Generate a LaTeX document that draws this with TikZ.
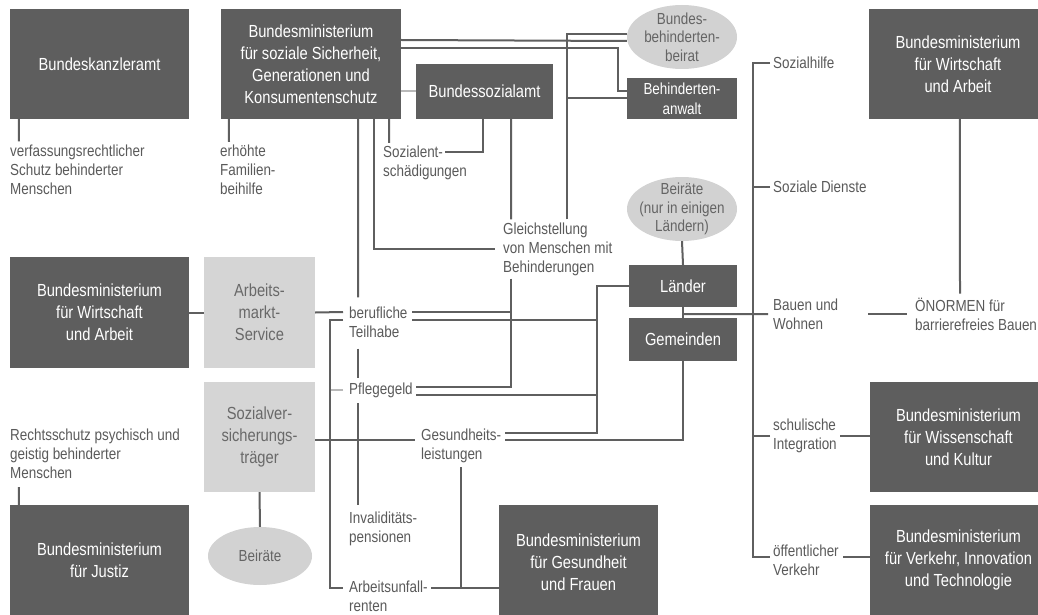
\documentclass[tikz,border=0pt]{standalone}
\usepackage{fontspec}
\newfontfamily\cond[FakeStretch=0.84]{Liberation Sans}
\usetikzlibrary{shapes.geometric,backgrounds}
\definecolor{dk}{RGB}{94,94,94}
\definecolor{lt}{RGB}{213,213,213}
\definecolor{el}{RGB}{210,210,210}
\definecolor{ln}{RGB}{95,95,95}
\definecolor{lln}{RGB}{185,185,185}
\definecolor{lbltext}{RGB}{90,90,90}
\definecolor{lttext}{RGB}{105,105,105}
\definecolor{eltext}{RGB}{100,100,100}
\newcommand\boxfont{\cond\fontsize{17.5}{22}\selectfont}
\newcommand\smallboxfont{\cond\fontsize{16}{20}\selectfont}
\newcommand\lblfont{\cond\fontsize{16}{19}\selectfont}
\newcommand\elfont{\cond\fontsize{16}{18.5}\selectfont}
\begin{document}
\begin{tikzpicture}[x=1pt,y=-1pt,
 dkbox/.style={fill=dk,text=white,font=\boxfont,align=center,inner sep=0pt},
 ltbox/.style={fill=lt,text=lttext,font=\boxfont,align=center,inner sep=0pt},
 oval/.style={ellipse,fill=el,text=eltext,font=\elfont,align=center,inner xsep=-20pt,inner ysep=-20pt},
 lbl/.style={font=\lblfont,text=lbltext,align=left,anchor=west,inner sep=0pt},
 conn/.style={draw=ln,line width=2pt},
 lconn/.style={draw=lln,line width=2pt},
 sz/.style 2 args={minimum width=#1pt,minimum height=#2pt}]
\useasboundingbox (0,0) rectangle (1038,615);
\clip (0,0) rectangle (1038,615);

% boxes
\node[dkbox,sz={179}{110}] (kanz) at (99.5,64) {Bundeskanzleramt};
\node[dkbox,sz={180}{110}] (bmsg) at (311,64) {Bundesministerium\\für soziale Sicherheit,\\Generationen und\\Konsumentenschutz};
\node[dkbox,sz={137}{55}] (bsa) at (484.5,91.5) {Bundessozialamt};
\node[oval,minimum width=110pt,minimum height=64pt] (bbb) at (682,37) {Bundes-\\behinderten-\\beirat};
\node[dkbox,font=\smallboxfont,sz={110}{41}] (anwalt) at (682,98.5) {Behinderten-\\anwalt};
\node[oval,minimum width=110pt,minimum height=64pt] (beir2) at (682,209) {Beiräte\\(nur in einigen\\Ländern)};
\node[dkbox,sz={108}{42}] (laender) at (683,286) {Länder};
\node[dkbox,sz={108}{43}] (gem) at (683,339.5) {Gemeinden};
\node[dkbox,sz={178}{110}] (bmwar) at (958,64) {Bundesministerium\\für Wirtschaft\\und Arbeit};
\node[dkbox,sz={179}{111}] (bmwal) at (99.5,312.5) {Bundesministerium\\für Wirtschaft\\und Arbeit};
\node[ltbox,sz={111}{111}] (ams) at (259.5,312.5) {Arbeits-\\markt-\\Service};
\node[ltbox,sz={111}{110}] (svt) at (259.5,437) {Sozialver-\\sicherungs-\\träger};
\node[oval,minimum width=104pt,minimum height=58pt] (beir1) at (260,556) {Beiräte};
\node[dkbox,sz={179}{110}] (bmj) at (99.5,560) {Bundesministerium\\für Justiz};
\node[dkbox,sz={159}{115}] (bmgf) at (578.5,562.5) {Bundesministerium\\für Gesundheit\\und Frauen};
\node[dkbox,sz={177}{110}] (bmwk) at (958.5,437) {Bundesministerium\\für Wissenschaft\\und Kultur};
\node[dkbox,sz={177}{110}] (bmvit) at (958.5,560) {Bundesministerium\\für Verkehr, Innovation\\und Technologie};

% labels
\node[lbl] (verf) at (10,169.5) {verfassungsrechtlicher\\Schutz behinderter\\Menschen};
\node[lbl] (erhoeht) at (220,170) {erhöhte\\Familien-\\beihilfe};
\node[lbl] (sozent) at (383,163) {Sozialent-\\schädigungen};
\node[lbl] (gleich) at (503,249) {Gleichstellung\\von Menschen mit\\Behinderungen};
\node[lbl] (beruf) at (349,322) {berufliche\\Teilhabe};
\node[lbl] (pflege) at (349,390) {Pflegegeld};
\node[lbl] (gesund) at (421,446) {Gesundheits-\\leistungen};
\node[lbl] (invalid) at (349,529) {Invaliditäts-\\pensionen};
\node[lbl] (unfall) at (349,596) {Arbeitsunfall-\\renten};
\node[lbl] (rechts) at (10,454) {Rechtsschutz psychisch und\\geistig behinderter\\Menschen};
\node[lbl] (sozhilfe) at (773,63) {Sozialhilfe};
\node[lbl] (sozdienst) at (773,187) {Soziale Dienste};
\node[lbl] (bauen) at (773,314) {Bauen und\\Wohnen};
\node[lbl] (oenorm) at (915,314) {ÖNORMEN für\\barrierefreies Bauen};
\node[lbl] (schul) at (773,436) {schulische\\Integration};
\node[lbl] (oeff) at (773,560) {öffentlicher\\Verkehr};

\begin{scope}[on background layer]
\fill[white] (0,0) rectangle (1038,615);
% light ticks first
\draw[lconn] (bmsg.east |- bsa.west) -- (bsa.west);
\draw[lconn] ([xshift=-6pt]pflege.west) -- ++(-13,0);
% top row
\draw[conn] ([xshift=9pt]kanz.south west) -- ([xshift=9pt,yshift=3pt]verf.north west);
\draw[conn] ([xshift=8pt]bmsg.south west) -- ([xshift=9pt,yshift=3pt]erhoeht.north west);
\draw[conn] ([xshift=-12pt]bmsg.south east) -- ([xshift=6pt,yshift=3pt]sozent.north west);
\draw[conn] ([xshift=-70pt]bsa.south east) |- ([xshift=62pt,yshift=11pt]sozent.west);
\draw[conn] ([xshift=-42pt]bsa.south east) -- ([xshift=8pt,yshift=3pt]gleich.north west);
\draw[conn] ([yshift=24pt]bmsg.east) -- ([yshift=-4pt]bbb.west);
\draw[conn] ([yshift=16pt]bmsg.east) -- ++(217,0) |- ([yshift=7.5pt]anwalt.west);
\coordinate (gv) at ([xshift=64pt,yshift=3pt]gleich.north west);
\draw[conn] (gv) |- ([yshift=3pt]bbb.west);
\draw[conn] (gv |- anwalt.west) -- (anwalt.west);
\draw[conn] ([xshift=-27pt]bmsg.south east) |- ([xshift=-8pt]gleich.west);
% middle column
\draw[conn] ([xshift=-43pt]bmsg.south east) -- ([xshift=9pt,yshift=9pt]beruf.north west);
\draw[conn] ([xshift=9pt,yshift=-11pt]beruf.south west) -- ([xshift=9pt,yshift=4.5pt]pflege.north west);
\draw[conn] ([xshift=9pt,yshift=-5.5pt]pflege.south west) -- ([xshift=9pt,yshift=7pt]invalid.north west);
\draw[conn] (ams.east) -- ([xshift=-6pt,yshift=10pt]beruf.west);
\coordinate (gb) at ([xshift=8pt,yshift=-3pt]gleich.south west);
\draw[conn] (gb) |- ([xshift=67pt,yshift=3pt]pflege.west);
\draw[conn] ([xshift=63pt,yshift=10pt]beruf.west) -| (gb);
\draw[conn] (laender.west) -- ++(-32,0) |- ([xshift=84pt,yshift=13pt]gesund.west);
\draw[conn] ([xshift=63pt,yshift=2pt]beruf.west) -| ([xshift=-32pt]laender.west);
\draw[conn] ([xshift=67pt,yshift=-5pt]pflege.west) -| ([xshift=-32pt]laender.west);
\draw[conn] ([xshift=-6pt,yshift=2pt]beruf.west) -- ++(-13,0) |- ([xshift=-6pt,yshift=8pt]unfall.west);
\draw[conn] (laender.south) -- (gem.north);
\draw[conn] ([yshift=-7pt]laender.south) -- ([xshift=-5pt]bauen.west);
\draw[conn] (gem.south) |- ([xshift=84pt,yshift=6pt]gesund.west);
\draw[conn] ([yshift=-3pt]svt.east) -- ([xshift=-6pt,yshift=6pt]gesund.west);
\draw[conn] ([xshift=40pt,yshift=-4pt]gesund.south west) |- ([yshift=-25.5pt]bmgf.west);
\draw[conn] ([xshift=82pt,yshift=8pt]unfall.west) -- ([yshift=-25.5pt]bmgf.west);
\draw[conn] (beir2.south) -- (laender.north);
% left column
\draw[conn] (svt.south) -- (beir1.north);
\draw[conn] (bmwal.east) -- (ams.west);
\draw[conn] ([xshift=9pt,yshift=-8pt]rechts.south west) -- ([xshift=9pt]bmj.north west);
% right column
\draw[conn] ([xshift=-3pt]sozhilfe.west) -- ([xshift=-20pt]sozhilfe.west) |- ([xshift=-3pt,yshift=3pt]oeff.west);
\draw[conn] ([xshift=-3pt]sozdienst.west) -- ++(-17,0);
\draw[conn] ([xshift=-3pt]schul.west) -- ++(-17,0);
\draw[conn] ([xshift=95pt]bauen.west) -- ([xshift=-8pt]oenorm.west);
\draw[conn] ([xshift=91pt]bmwar.south west) -- ([xshift=45pt,yshift=4pt]oenorm.north west);
\draw[conn] ([xshift=67pt]schul.west) -- (bmwk.west |- schul.west);
\draw[conn] ([xshift=70pt,yshift=3pt]oeff.west) -- ([yshift=3pt]bmvit.west);
\end{scope}
\end{tikzpicture}
\end{document}
